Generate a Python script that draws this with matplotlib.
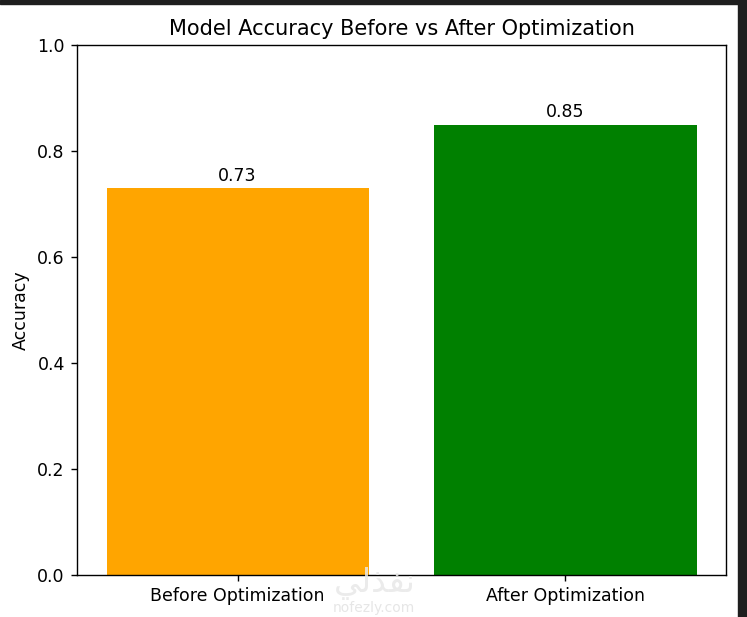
import matplotlib
matplotlib.use("Agg")
import matplotlib.pyplot as plt
from matplotlib.patches import Rectangle

categories = ["Before Optimization", "After Optimization"]
accuracy = [0.73, 0.85]
colors = ["orange", "green"]

s = 1.25
plt.rcParams.update({
    "font.size": 10 * s,
    "axes.linewidth": 0.8 * s,
    "xtick.major.size": 3.5 * s,
    "ytick.major.size": 3.5 * s,
    "xtick.major.width": 0.8 * s,
    "ytick.major.width": 0.8 * s,
    "xtick.major.pad": 3.5 * s,
    "ytick.major.pad": 3.5 * s,
})

fig = plt.figure(figsize=(7.47, 6.17), dpi=100)
ax = fig.add_axes([77/747, 1-575/617, (726-77)/747, (575-45)/617])
ax.bar(categories, accuracy, color=colors)
for i, v in enumerate(accuracy):
    ax.text(i, v + 0.006, f"{v:.2f}", ha="center", va="bottom", fontsize=10 * s)
ax.set_ylim(0, 1)
ax.set_ylabel("Accuracy", labelpad=4 * s)
ax.set_title("Model Accuracy Before vs After Optimization", fontsize=12 * s, pad=6 * s)

# screenshot dark border
fig.patches.append(Rectangle((0, 1-4/617), 1, 4/617, transform=fig.transFigure,
                             color="#1e1e1e", zorder=10))
fig.patches.append(Rectangle((738/747, 0), 9/747, 1, transform=fig.transFigure,
                             color="#1e1e1e", zorder=10))
# watermark
fig.text(375/747, 1-583/617, "\ufef2\ufedf\ufeac\ufed4\ufee7", fontsize=24, color="#e8e8e8",
         ha="center", va="center", family=["DejaVu Sans"], zorder=0, alpha=0.85)
fig.text(374/747, 1-608/617, "nofezly.com", fontsize=10, color="#e6e6e6", ha="center",
         va="center")

fig.savefig("out.png", dpi=100)
